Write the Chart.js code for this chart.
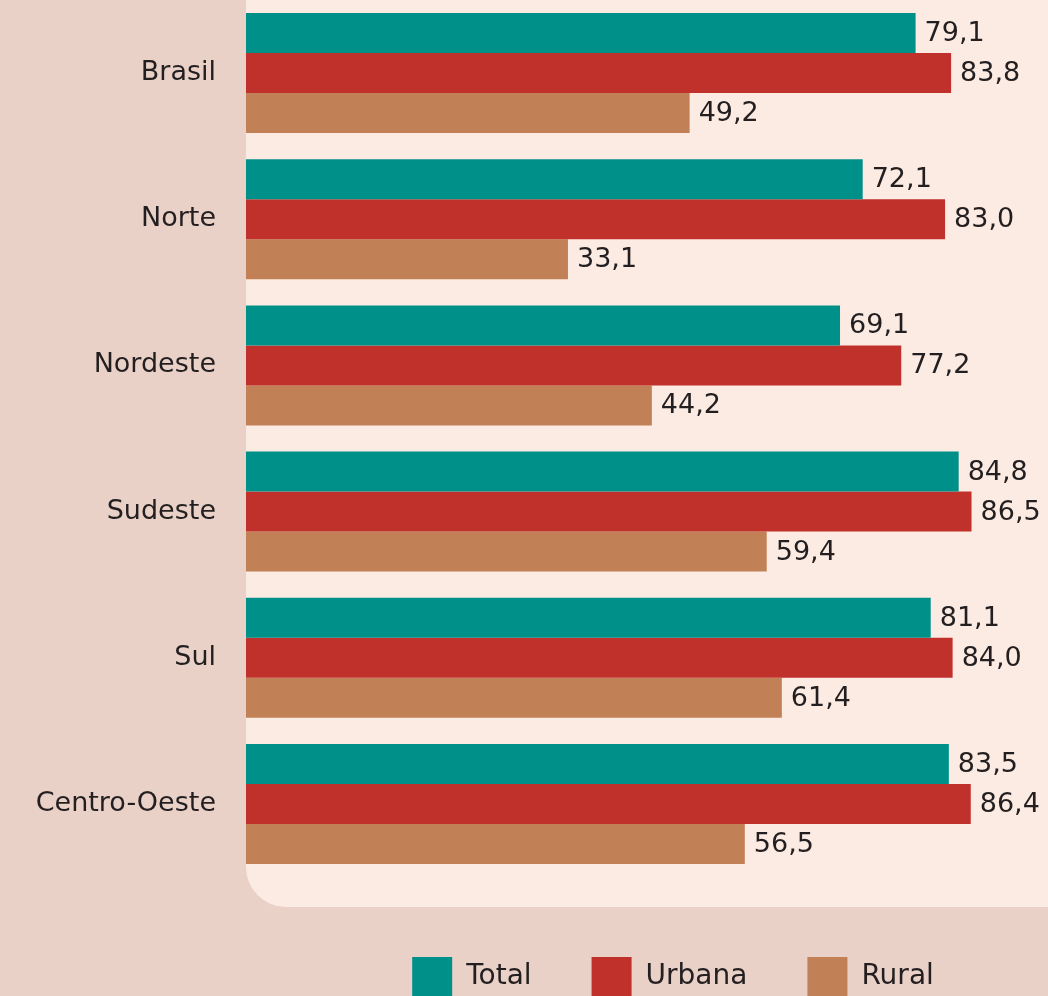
<!DOCTYPE html>
<html><head><meta charset="utf-8">
<script src="https://cdn.jsdelivr.net/npm/chart.js@4/dist/chart.umd.min.js"></script>
<style>
html,body{margin:0;padding:0;overflow:hidden;background:#e9d1c7;}
#wrap{width:1048px;height:996px;overflow:hidden;position:relative;}
#box{width:1100px;height:1007px;position:absolute;left:0;top:0;}
</style></head><body>
<div id="wrap"><div id="box"><canvas id="c"></canvas></div></div>
<script>
const categories = ['Brasil', 'Norte', 'Nordeste', 'Sudeste', 'Sul', 'Centro-Oeste'];
const totalValues = [79.1, 72.1, 69.1, 84.8, 81.1, 83.5];
const urbanaValues = [83.8, 83.0, 77.2, 86.5, 84.0, 86.4];
const ruralValues = [49.2, 33.1, 44.2, 59.4, 61.4, 56.5];
const seriesNames = ['Total', 'Urbana', 'Rural'];
const seriesColors = ['#00908a', '#c1312c', '#c18055'];
const axisMin = -9.5;
const axisMax = 103.5;

const outerBg = '#e9d1c7';
const panelBg = '#fcebe3';
const textColor = '#231f20';
Chart.defaults.font.family = "'DejaVu Sans', sans-serif";

const panelPlugin = {
  id: 'panel',
  beforeDraw(chart) {
    const {ctx, chartArea, width, height} = chart;
    ctx.save();
    ctx.fillStyle = outerBg;
    ctx.fillRect(0, 0, width, height);
    ctx.fillStyle = panelBg;
    ctx.beginPath();
    ctx.roundRect(chartArea.left, -50, width - chartArea.left + 50, chartArea.bottom + 30 + 50, [0, 0, 0, 40]);
    ctx.fill();
    ctx.restore();
  }
};

const valueLabelPlugin = {
  id: 'valueLabels',
  afterDatasetsDraw(chart) {
    const {ctx} = chart;
    ctx.save();
    ctx.font = "27px 'DejaVu Sans', sans-serif";
    ctx.fillStyle = textColor;
    ctx.textAlign = 'left';
    ctx.textBaseline = 'middle';
    chart.data.datasets.forEach((ds, i) => {
      const meta = chart.getDatasetMeta(i);
      meta.data.forEach((bar, j) => {
        const txt = ds.data[j].toFixed(1).replace('.', ',');
        ctx.fillText(txt, bar.x + 9, bar.y + 1);
      });
    });
    ctx.restore();
  }
};

const seriesData = [totalValues, urbanaValues, ruralValues];
new Chart(document.getElementById('c'), {
  type: 'bar',
  data: {
    labels: categories,
    datasets: seriesNames.map((name, i) => ({
      label: name,
      data: seriesData[i],
      backgroundColor: seriesColors[i],
      borderWidth: 0,
      base: axisMin,
      categoryPercentage: 0.821,
      barPercentage: 1.0
    }))
  },
  options: {
    indexAxis: 'y',
    responsive: true,
    maintainAspectRatio: false,
    animation: false,
    layout: {padding: 0},
    scales: {
      x: {
        min: axisMin,
        max: axisMax,
        grid: {display: false, drawTicks: false},
        border: {display: false},
        ticks: {display: false},
        afterFit(axis) { axis.height = 20; axis.paddingLeft = 0; axis.paddingRight = 0; }
      },
      y: {
        grid: {display: false, drawTicks: false},
        border: {display: false},
        ticks: {color: textColor, font: {size: 27}, padding: 30},
        afterFit(axis) { axis.width = 246; axis.paddingTop = 0; axis.paddingBottom = 0; }
      }
    },
    plugins: {
      tooltip: {enabled: false},
      legend: {
        position: 'bottom',
        fullSize: false,
        labels: {
          boxWidth: 40,
          boxHeight: 40,
          padding: 60,
          color: textColor,
          font: {size: 28}
        }
      }
    }
  },
  plugins: [panelPlugin, valueLabelPlugin]
});
</script>
</body></html>
